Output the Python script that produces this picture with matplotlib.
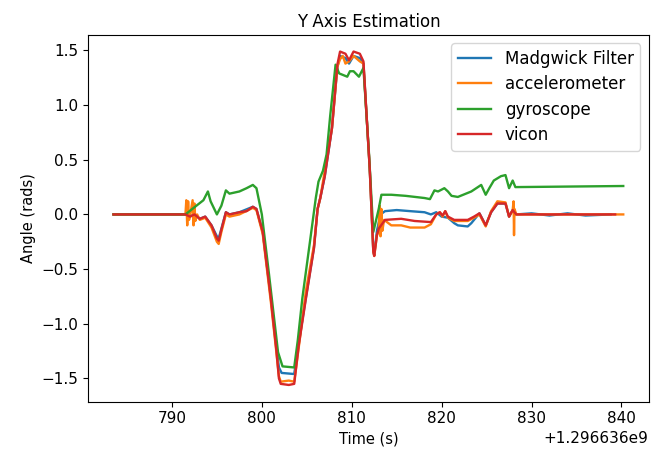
import numpy as np
import matplotlib
matplotlib.use('Agg')
import matplotlib.pyplot as plt

t0 = 1296636000.0

# vicon (ground truth)
vicon_t = [783.5, 791.5, 792.0, 792.5, 793.1, 793.7, 794.4, 795.0, 795.2, 795.5, 796.0, 796.4,
           797.5, 798.3, 799.0, 799.4, 800.1, 801.0, 801.6, 801.9, 802.1, 803.0, 803.6, 804.1,
           804.9, 805.8, 806.2, 806.5, 807.0, 807.8, 808.4, 808.7, 809.3, 809.7, 810.2, 810.9,
           811.3, 812.0, 812.4, 812.5, 812.8, 813.0, 813.7, 815.5, 817.0, 818.8, 819.4, 819.8,
           820.1, 820.4, 820.7, 821.4, 822.9, 823.6, 824.2, 824.9, 825.5, 826.2, 827.1, 827.5,
           827.9, 828.3, 839.3]
vicon_y = [0.0, 0.0, -0.02, 0.0, -0.04, -0.02, -0.10, -0.22, -0.24, -0.14, 0.02, 0.0,
           0.02, 0.03, 0.07, 0.05, -0.16, -0.77, -1.23, -1.50, -1.55, -1.56, -1.55, -1.20,
           -0.77, -0.31, 0.05, 0.15, 0.35, 0.79, 1.37, 1.49, 1.47, 1.41, 1.49, 1.47,
           1.40, 0.42, -0.34, -0.38, -0.19, -0.13, -0.05, -0.04, -0.06, -0.07, 0.0, 0.02,
           -0.01, 0.03, -0.02, -0.05, -0.05, -0.02, 0.01, -0.10, 0.02, 0.10, 0.10, -0.02,
           0.04, 0.0, 0.0]

# gyroscope integration
gyro_t = [783.5, 791.5, 792.8, 793.5, 794.0, 794.3, 795.0, 795.5, 796.0, 796.4, 797.5, 798.3,
          799.0, 799.4, 800.0, 800.8, 801.8, 802.3, 803.6, 804.0, 804.5, 805.4, 806.0, 806.3,
          806.8, 807.2, 807.6, 808.2, 808.6, 809.5, 809.8, 810.2, 810.8, 811.3, 811.9, 812.4,
          813.0, 813.3, 814.4, 816.0, 818.1, 818.7, 819.2, 819.6, 820.3, 820.7, 821.1, 821.8,
          823.3, 824.4, 824.9, 825.3, 825.8, 826.6, 827.1, 827.5, 827.9, 828.2, 840.2]
gyro_y = [0.0, 0.0, 0.085, 0.13, 0.21, 0.12, 0.0, 0.08, 0.22, 0.19, 0.21, 0.24,
          0.27, 0.24, 0.0, -0.55, -1.26, -1.39, -1.40, -1.15, -0.77, -0.22, 0.15, 0.30,
          0.40, 0.55, 0.90, 1.37, 1.29, 1.26, 1.31, 1.31, 1.26, 1.34, 0.58, -0.16,
          0.05, 0.18, 0.18, 0.17, 0.15, 0.14, 0.22, 0.21, 0.24, 0.21, 0.17, 0.16,
          0.21, 0.27, 0.18, 0.24, 0.31, 0.35, 0.36, 0.24, 0.31, 0.25, 0.26]

# madgwick filter
madg_t = [783.5, 791.5, 792.0, 792.5, 793.1, 793.7, 794.4, 795.0, 795.2, 795.5, 796.0, 796.4,
          797.5, 799.0, 799.4, 800.1, 801.0, 801.6, 801.9, 802.2, 803.6, 804.1, 804.9, 805.8,
          806.2, 806.5, 807.0, 807.8, 808.4, 808.7, 809.3, 809.7, 810.2, 810.9, 811.3, 812.0,
          812.4, 812.5, 812.8, 813.2, 813.7, 815.0, 816.5, 818.1, 818.8, 819.4, 820.0, 820.7,
          821.4, 821.8, 822.9, 823.3, 824.2, 824.9, 825.5, 826.2, 827.1, 827.5, 827.9, 828.3,
          830.0, 832.0, 834.0, 836.0, 838.8]
madg_y = [0.0, 0.0, -0.02, 0.0, -0.04, -0.02, -0.10, -0.20, -0.22, -0.13, 0.02, 0.0,
          0.02, 0.07, 0.05, -0.16, -0.75, -1.20, -1.40, -1.45, -1.46, -1.18, -0.76, -0.30,
          0.05, 0.15, 0.35, 0.79, 1.35, 1.45, 1.43, 1.38, 1.45, 1.43, 1.38, 0.42,
          -0.34, -0.37, -0.15, 0.0, 0.03, 0.04, 0.03, 0.02, 0.0, 0.02, -0.02, -0.03,
          -0.08, -0.10, -0.11, -0.08, 0.01, -0.10, 0.02, 0.10, 0.10, -0.02, 0.04, 0.0,
          0.01, -0.01, 0.01, -0.01, 0.0]

# accelerometer estimate
acc_t = [783.5, 791.5, 791.6, 791.7, 791.8, 791.9, 792.0, 792.3, 792.4, 792.5, 792.6, 792.8,
         793.1, 793.7, 794.4, 795.0, 795.2, 795.5, 796.0, 796.4, 797.5, 799.0, 799.4, 800.1,
         801.0, 801.6, 801.9, 802.1, 803.0, 803.6, 804.1, 804.9, 805.8, 806.2, 806.5, 807.0,
         807.8, 808.4, 808.7, 809.0, 809.3, 809.7, 810.2, 810.9, 811.3, 812.0, 812.4, 812.5,
         812.8, 813.0, 813.1, 813.2, 813.3, 813.4, 813.6, 814.4, 815.5, 816.5, 818.1, 818.8,
         819.4, 819.8, 820.1, 820.4, 820.7, 821.4, 822.9, 823.6, 824.2, 824.9, 825.5, 826.2,
         827.1, 827.5, 827.9, 828.0, 828.05, 828.1, 828.3, 840.2]
acc_y = [0.0, 0.0, 0.13, -0.10, 0.12, -0.05, -0.02, 0.13, -0.10, 0.10, -0.06, 0.0,
         -0.05, -0.03, -0.12, -0.25, -0.27, -0.16, 0.0, -0.02, 0.0, 0.06, 0.04, -0.18,
         -0.80, -1.25, -1.48, -1.53, -1.52, -1.53, -1.22, -0.70, -0.28, 0.05, 0.15, 0.40,
         0.79, 1.35, 1.42, 1.45, 1.38, 1.40, 1.45, 1.40, 1.38, 0.42, -0.34, -0.38,
         -0.19, -0.15, 0.08, -0.20, 0.05, -0.15, -0.05, -0.10, -0.10, -0.12, -0.12, -0.09,
         0.0, 0.02, -0.02, 0.03, -0.03, -0.06, -0.06, -0.03, 0.0, -0.11, 0.03, 0.12,
         0.11, -0.02, 0.04, 0.12, -0.19, 0.05, 0.0, 0.0]

fig = plt.figure(figsize=(6.52, 4.59), dpi=100)
ax = fig.add_axes([0.135, 0.125, 0.860, 0.799])

ax.plot(t0 + np.array(madg_t), madg_y, label='Madgwick Filter', lw=1.7)
ax.plot(t0 + np.array(acc_t), acc_y, label='accelerometer', lw=1.7)
ax.plot(t0 + np.array(gyro_t), gyro_y, label='gyroscope', lw=1.7)
ax.plot(t0 + np.array(vicon_t), vicon_y, label='vicon', lw=1.7)

ax.tick_params(labelsize=11)
ax.xaxis.get_offset_text().set_fontsize(11)
ax.set_title('Y Axis Estimation', fontsize=12)
ax.set_xlabel('Time (s)', fontsize=10.5)
ax.set_ylabel('Angle (rads)', fontsize=10.5)
ax.legend(loc='upper right', fontsize=12, labelspacing=0.44)

fig.savefig('out.png', dpi=100)
